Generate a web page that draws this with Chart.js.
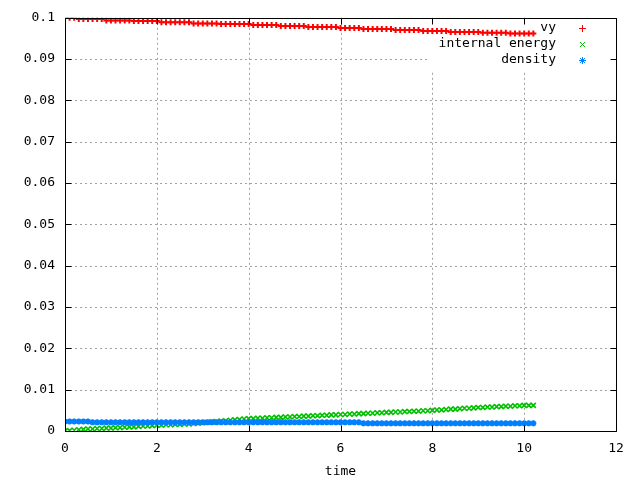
<!DOCTYPE html>
<html><head><meta charset="utf-8">
<script src="https://cdn.jsdelivr.net/npm/chart.js@4/dist/chart.umd.min.js"></script>
<style>html,body{margin:0;padding:0;background:#fff;}canvas{display:block;}</style>
</head><body>
<canvas id="c" width="640" height="480"></canvas>
<script>
const times = [
 0.0,0.1,0.2,0.3,0.4,0.5,0.6,0.7,0.8,0.9,
 1.0,1.1,1.2,1.3,1.4,1.5,1.6,1.7,1.8,1.9,
 2.0,2.1,2.2,2.3,2.4,2.5,2.6,2.7,2.8,2.9,
 3.0,3.1,3.2,3.3,3.4,3.5,3.6,3.7,3.8,3.9,
 4.0,4.1,4.2,4.3,4.4,4.5,4.6,4.7,4.8,4.9,
 5.0,5.1,5.2,5.3,5.4,5.5,5.6,5.7,5.8,5.9,
 6.0,6.1,6.2,6.3,6.4,6.5,6.6,6.7,6.8,6.9,
 7.0,7.1,7.2,7.3,7.4,7.5,7.6,7.7,7.8,7.9,
 8.0,8.1,8.2,8.3,8.4,8.5,8.6,8.7,8.8,8.9,
 9.0,9.1,9.2,9.3,9.4,9.5,9.6,9.7,9.8,9.9,
 10.0,10.1,10.2
];
const vy = [
 0.1000,0.1000,0.1000,0.0997,0.0997,0.0997,0.0997,0.0997,0.0997,0.09935,
 0.09935,0.09935,0.09935,0.09935,0.09935,0.0992,0.0992,0.0992,0.0992,0.0992,
 0.0992,0.0989,0.0989,0.0989,0.0989,0.0989,0.0989,0.0989,0.09863,0.09863,
 0.09863,0.09863,0.09863,0.09863,0.09849,0.09849,0.09849,0.09849,0.09849,0.09849,
 0.09849,0.09825,0.09825,0.09825,0.09825,0.09825,0.09825,0.0980,0.0980,0.0980,
 0.0980,0.0980,0.0980,0.09776,0.09776,0.09776,0.09776,0.09776,0.09776,0.09776,
 0.09752,0.09752,0.09752,0.09752,0.09752,0.09728,0.09728,0.09728,0.09728,0.09728,
 0.09728,0.09728,0.09704,0.09704,0.09704,0.09704,0.09704,0.09704,0.0968,0.0968,
 0.0968,0.0968,0.0968,0.0968,0.09656,0.09656,0.09656,0.09656,0.09656,0.09656,
 0.09656,0.0964,0.0964,0.0964,0.0964,0.0964,0.0964,0.09623,0.09623,0.09623,
 0.09623,0.09623,0.09623
];
const internalEnergy = [
 0.0000,0.0001,0.0002,0.0003,0.0004,0.0005,0.0005,0.0006,0.0006,0.0007,
 0.0007,0.0008,0.0008,0.0009,0.0010,0.0010,0.0011,0.0012,0.0012,0.0013,
 0.0014,0.0014,0.0015,0.0015,0.0016,0.0016,0.0017,0.0017,0.0018,0.0019,
 0.0020,0.0021,0.0022,0.0023,0.0024,0.0025,0.0026,0.0027,0.0028,0.0029,
 0.0030,0.0030,0.0031,0.0031,0.0032,0.0032,0.0033,0.0033,0.0034,0.0034,
 0.0035,0.0035,0.0036,0.0036,0.0037,0.0037,0.0038,0.0038,0.0039,0.0039,
 0.0040,0.0040,0.0041,0.0041,0.0042,0.0042,0.0043,0.0043,0.0044,0.0044,
 0.0045,0.0045,0.0046,0.0046,0.0047,0.0047,0.0048,0.0048,0.0049,0.0049,
 0.0050,0.0051,0.0051,0.0052,0.0053,0.0053,0.0054,0.0055,0.0055,0.0056,
 0.0057,0.0057,0.0058,0.0058,0.0059,0.0059,0.0060,0.0060,0.0061,0.0061,
 0.0062,0.0062,0.0062
];
const density = [
 0.0023,0.0023,0.0023,0.0023,0.0023,0.0023,0.0021,0.0021,0.0021,0.0021,
 0.0021,0.0021,0.0021,0.0021,0.0021,0.0021,0.0021,0.0021,0.0021,0.0021,
 0.0021,0.0021,0.0021,0.0021,0.0021,0.0021,0.0021,0.0021,0.0021,0.0021,
 0.0021,0.0021,0.0021,0.0021,0.0021,0.0021,0.0021,0.0021,0.0021,0.0021,
 0.0021,0.0021,0.0021,0.0021,0.0021,0.0021,0.0021,0.0021,0.0021,0.0021,
 0.0021,0.0021,0.0021,0.0021,0.0021,0.0021,0.0021,0.0021,0.0021,0.0021,
 0.0021,0.0021,0.0021,0.0021,0.0021,0.00185,0.00185,0.00185,0.00185,0.00185,
 0.00185,0.00185,0.00185,0.00185,0.00185,0.00185,0.00185,0.00185,0.00185,0.00185,
 0.00185,0.00185,0.00185,0.00185,0.00185,0.00185,0.00185,0.00185,0.00185,0.00185,
 0.00185,0.00185,0.00185,0.00185,0.00185,0.00185,0.00185,0.00185,0.00185,0.00185,
 0.00185,0.00185,0.00185
];
const seriesNames = ['vy', 'internal energy', 'density'];
const xAxisTitle = 'time';
const xTickValues = [0, 2, 4, 6, 8, 10, 12];
const yTickValues = [0, 0.01, 0.02, 0.03, 0.04, 0.05, 0.06, 0.07, 0.08, 0.09, 0.1];

const FONT = '"DejaVu Sans Mono", "Liberation Mono", monospace';
const colors = ['#ff0000', '#00c000', '#0080ff'];
const styles = ['cross', 'crossRot', 'star'];
const radii = [3, 3.5, 3];
const widths = [2, 1.6, 2];

function pts(arr) { return times.map((t, i) => ({ x: t, y: arr[i] })); }

function drawMarker(ctx, style, x, y, color) {
  ctx.save();
  ctx.strokeStyle = color; ctx.lineWidth = 1;
  ctx.beginPath();
  if (style === 'cross' || style === 'star') {
    ctx.moveTo(x - 3, y + 0.5); ctx.lineTo(x + 4, y + 0.5);
    ctx.moveTo(x + 0.5, y - 3); ctx.lineTo(x + 0.5, y + 4);
  }
  if (style === 'crossRot' || style === 'star') {
    ctx.moveTo(x - 2, y - 2); ctx.lineTo(x + 3, y + 3);
    ctx.moveTo(x + 3, y - 2); ctx.lineTo(x - 2, y + 3);
  }
  ctx.stroke();
  ctx.restore();
}

const gnuplotPlugin = {
  id: 'gnuplotFrame',
  beforeDatasetsDraw(chart) {
    const ctx = chart.ctx, a = chart.chartArea;
    const xs = chart.scales.x, ys = chart.scales.y;
    ctx.save();
    ctx.strokeStyle = '#a0a0a0'; ctx.lineWidth = 1; ctx.setLineDash([2, 3]);
    ctx.beginPath();
    xTickValues.forEach(v => {
      if (v === xs.min || v === xs.max) return;
      const px = Math.round(xs.getPixelForValue(v)) + 0.5;
      ctx.moveTo(px, a.top); ctx.lineTo(px, a.bottom);
    });
    yTickValues.forEach(v => {
      if (v === ys.min || v === ys.max) return;
      const py = Math.round(ys.getPixelForValue(v)) + 0.5;
      ctx.moveTo(a.left, py); ctx.lineTo(a.right, py);
    });
    ctx.stroke();
    ctx.setLineDash([]);
    ctx.fillStyle = '#ffffff';
    ctx.fillRect(430, a.top + 1, a.right - 430, 52);
    ctx.restore();
  },
  afterDatasetsDraw(chart) {
    const ctx = chart.ctx, a = chart.chartArea;
    const xs = chart.scales.x, ys = chart.scales.y;
    ctx.save();
    ctx.strokeStyle = '#000000'; ctx.lineWidth = 1;
    ctx.beginPath();
    const L = Math.round(a.left) + 0.5, R = Math.round(a.right) + 0.5;
    const T = Math.round(a.top) + 0.5, B = Math.round(a.bottom) + 0.5;
    ctx.rect(L, T, R - L, B - T);
    const tl = 6;
    xTickValues.forEach(v => {
      const px = Math.round(xs.getPixelForValue(v)) + 0.5;
      ctx.moveTo(px, B); ctx.lineTo(px, B - tl);
      ctx.moveTo(px, T); ctx.lineTo(px, T + tl);
    });
    yTickValues.forEach(v => {
      const py = Math.round(ys.getPixelForValue(v)) + 0.5;
      ctx.moveTo(L, py); ctx.lineTo(L + tl, py);
      ctx.moveTo(R, py); ctx.lineTo(R - tl, py);
    });
    ctx.stroke();
    ctx.font = '13px ' + FONT;
    ctx.fillStyle = '#000000';
    ctx.textAlign = 'right';
    ctx.textBaseline = 'middle';
    const keyY = [28, 44, 60];
    seriesNames.forEach((name, i) => {
      ctx.fillText(name, 556, keyY[i]);
      drawMarker(ctx, styles[i], 582, keyY[i], colors[i]);
    });
    ctx.restore();
  }
};

const datasets = [vy, internalEnergy, density].map((arr, i) => ({
  label: seriesNames[i],
  data: pts(arr),
  showLine: false,
  pointStyle: styles[i],
  pointRadius: radii[i],
  pointBorderWidth: widths[i],
  borderColor: colors[i],
  backgroundColor: colors[i],
  order: 2 - i
}));

new Chart(document.getElementById('c'), {
  type: 'scatter',
  data: { datasets },
  options: {
    responsive: false,
    animation: false,
    devicePixelRatio: 1,
    events: [],
    layout: { padding: { left: 0, right: 24, top: 15, bottom: 0 } },
    plugins: { legend: { display: false }, tooltip: { enabled: false } },
    scales: {
      x: {
        type: 'linear', min: 0, max: 12,
        afterFit(s) { s.height = 49; },
        afterBuildTicks(s) { s.ticks = xTickValues.map(v => ({ value: v })); },
        grid: { display: false, drawTicks: false },
        border: { display: false },
        ticks: { color: '#000', font: { family: FONT, size: 13 }, padding: 10, maxRotation: 0,
                 callback: v => String(v) },
        title: { display: true, text: xAxisTitle, color: '#000', font: { family: FONT, size: 13 },
                 padding: { top: 0, bottom: 1 } }
      },
      y: {
        type: 'linear', min: 0, max: 0.1,
        afterFit(s) { s.width = 65; },
        afterBuildTicks(s) { s.ticks = yTickValues.map(v => ({ value: v })); },
        grid: { display: false, drawTicks: false },
        border: { display: false },
        ticks: { color: '#000', font: { family: FONT, size: 13 }, padding: 10,
                 callback: v => String(Number(v.toFixed(2))) }
      }
    }
  },
  plugins: [gnuplotPlugin]
});
</script>
</body></html>
